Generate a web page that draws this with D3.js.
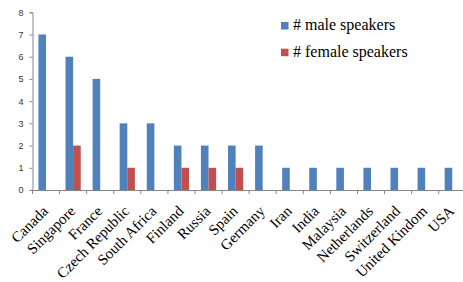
<!DOCTYPE html>
<html>
<head>
<meta charset="utf-8">
<script src="https://cdn.jsdelivr.net/npm/d3@7"></script>
<style>
  body { margin: 0; background: #fff; }
  svg { display: block; }
</style>
</head>
<body>
<div id="chart"></div>
<script>
// data
const countries = ["Canada", "Singapore", "France", "Czech Republic", "South Africa", "Finland",
  "Russia", "Spain", "Germany", "Iran", "India", "Malaysia", "Netherlands", "Switzerland",
  "United Kindom", "USA"];
const maleSpeakers   = [7, 6, 5, 3, 3, 2, 2, 2, 2, 1, 1, 1, 1, 1, 1, 1];
const femaleSpeakers = [0, 2, 0, 1, 0, 1, 1, 1, 0, 0, 0, 0, 0, 0, 0, 0];
const seriesNames = ["# male speakers", "# female speakers"];
const seriesColors = ["#4f81bd", "#c0504d"];
const yTicks = [0, 1, 2, 3, 4, 5, 6, 7, 8];

const width = 463, height = 282;

const svg = d3.select("#chart").append("svg")
  .attr("width", width)
  .attr("height", height);

// scales
const x = d3.scaleBand()
  .domain(countries)
  .range([32.5, 465.8])
  .paddingInner(0)
  .paddingOuter(0);

const x1 = d3.scaleBand()
  .domain(seriesNames)
  .range([0, x.bandwidth()])
  .paddingInner(0)
  .paddingOuter(0.78);

const y = d3.scaleLinear()
  .domain([0, 8])
  .range([190, 12.3]);

const rows = countries.map((c, i) => ({
  country: c,
  values: [maleSpeakers[i], femaleSpeakers[i]]
}));

// bars
const groups = svg.selectAll(".grp")
  .data(rows)
  .enter().append("g")
  .attr("class", "grp")
  .attr("transform", d => `translate(${x(d.country)},0)`);

groups.selectAll("rect")
  .data(d => d.values.map((v, j) => ({ v: v, s: seriesNames[j], c: seriesColors[j] })))
  .enter().append("rect")
  .filter(d => d.v > 0)
  .attr("x", d => x1(d.s))
  .attr("y", d => y(d.v))
  .attr("width", x1.bandwidth())
  .attr("height", d => y(0) - y(d.v))
  .attr("fill", d => d.c);

// y axis
const yAxis = svg.append("g")
  .attr("transform", `translate(${x.range()[0]},0)`)
  .call(d3.axisLeft(y).tickValues(yTicks).tickSize(3).tickPadding(6).tickFormat(d3.format("d")));
yAxis.select(".domain").attr("stroke", "#868686");
yAxis.selectAll(".tick line").attr("stroke", "#868686");
yAxis.selectAll(".tick text")
  .attr("fill", "#333")
  .style("font-family", "Liberation Sans, Arial, sans-serif")
  .style("font-size", "9px");

// x axis
const xAxis = svg.append("g")
  .attr("transform", `translate(0,${y(0)})`)
  .call(d3.axisBottom(x).tickSize(0).tickFormat(""));
xAxis.select(".domain").attr("stroke", "#868686");

// category boundary ticks
svg.selectAll(".xtick")
  .data(countries)
  .enter().append("line")
  .attr("class", "xtick")
  .attr("x1", d => x(d))
  .attr("x2", d => x(d))
  .attr("y1", y(0))
  .attr("y2", y(0) + 4)
  .attr("stroke", "#868686");

// rotated labels
svg.selectAll(".xlabel")
  .data(countries)
  .enter().append("text")
  .attr("class", "xlabel")
  .attr("transform", d => `translate(${x(d) + x.bandwidth() / 2 + 3},${y(0) + 22}) rotate(-45)`)
  .attr("text-anchor", "end")
  .style("font-family", "Liberation Serif, Times New Roman, serif")
  .style("font-size", "15px")
  .attr("fill", "#000")
  .text(d => d);

// legend
const legend = svg.selectAll(".legend")
  .data(seriesNames)
  .enter().append("g")
  .attr("class", "legend")
  .attr("transform", (d, i) => `translate(281,${22 + i * 26.7})`);

legend.append("rect")
  .attr("width", 7.5)
  .attr("height", 7.5)
  .attr("fill", (d, i) => seriesColors[i]);

legend.append("text")
  .attr("x", 12)
  .attr("y", 8)
  .style("font-family", "Liberation Serif, Times New Roman, serif")
  .style("font-size", "16px")
  .attr("fill", "#000")
  .text(d => d);
</script>
</body>
</html>
